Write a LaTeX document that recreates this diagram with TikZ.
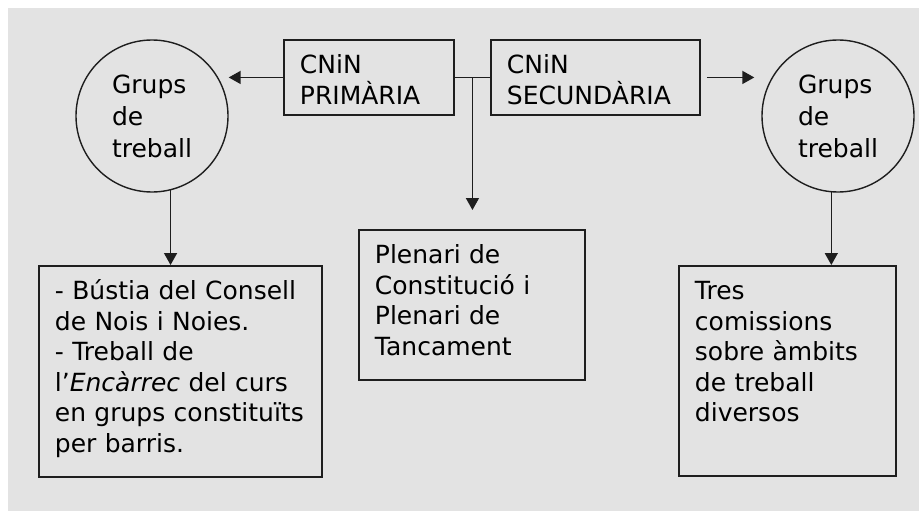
\documentclass[tikz,border=0pt]{standalone}
\usepackage{fontspec}
\setmainfont{DejaVu Sans}
\usetikzlibrary{arrows.meta,calc}
\definecolor{fons}{RGB}{227,227,227}
\definecolor{linia}{RGB}{30,30,30}

\begin{document}
\begin{tikzpicture}[x=1pt,y=-1pt,
  caixa/.style={draw=linia,line width=1.9pt,anchor=north west,align=left,inner xsep=16pt,inner ysep=0pt,text height=34pt,font=\fontsize{25}{30.5}\selectfont},
  grups/.style={draw=linia,circle,line width=1.4pt,minimum size=152pt,inner sep=0pt,align=left,font=\fontsize{25}{32}\selectfont},
  fletxa/.style={draw=linia,line width=1.6pt,-{Triangle[length=12pt,width=13pt]}}]
\useasboundingbox (0,0) rectangle (919,511);
\fill[fons] (8,8) rectangle (919,511);
\node[caixa,text width=138pt,text depth=41pt] (prim) at (283,39) {CNiN\\PRIMÀRIA};
\node[caixa,text width=177pt,text depth=41pt] (sec) at (490,39) {CNiN\\SECUNDÀRIA};
\node[grups] (grups1) at (152,116) {Grups\\de\\treball};
\node[grups] (grups2) at (838,116) {Grups\\de\\treball};
\node[caixa,text width=194pt,text depth=116pt] (plenari) at (358,229) {Plenari de\\Constitució i\\Plenari de\\Tancament};
\node[caixa,text width=251pt,text depth=177pt] (feines) at (38,265) {- Bústia del Consell\\de Nois i Noies.\\- Treball de\\l'\textit{Encàrrec} del curs\\en grups constituïts\\per barris.};
\node[caixa,text width=185pt,text depth=176pt] (comissions) at (678,265) {Tres\\comissions\\sobre àmbits\\de treball\\diversos};
% fletxes
\draw[fletxa] (prim.west) -- (prim.west -| grups1.east);
\draw[linia,line width=1.6pt] (prim.east) -- (sec.west);
\coordinate (mig) at ($(prim.east)!0.5!(sec.west)$);
\draw[fletxa,shorten >=19pt] (mig) -- (mig |- plenari.north);
\draw[fletxa,shorten <=6pt,shorten >=7pt] (sec.east) -- (sec.east -| grups2.west);
\draw[fletxa] (grups1.-76) -- (grups1.-76 |- feines.north);
\draw[fletxa] (grups2.-95) -- (grups2.-95 |- comissions.north);
\end{tikzpicture}
\end{document}
